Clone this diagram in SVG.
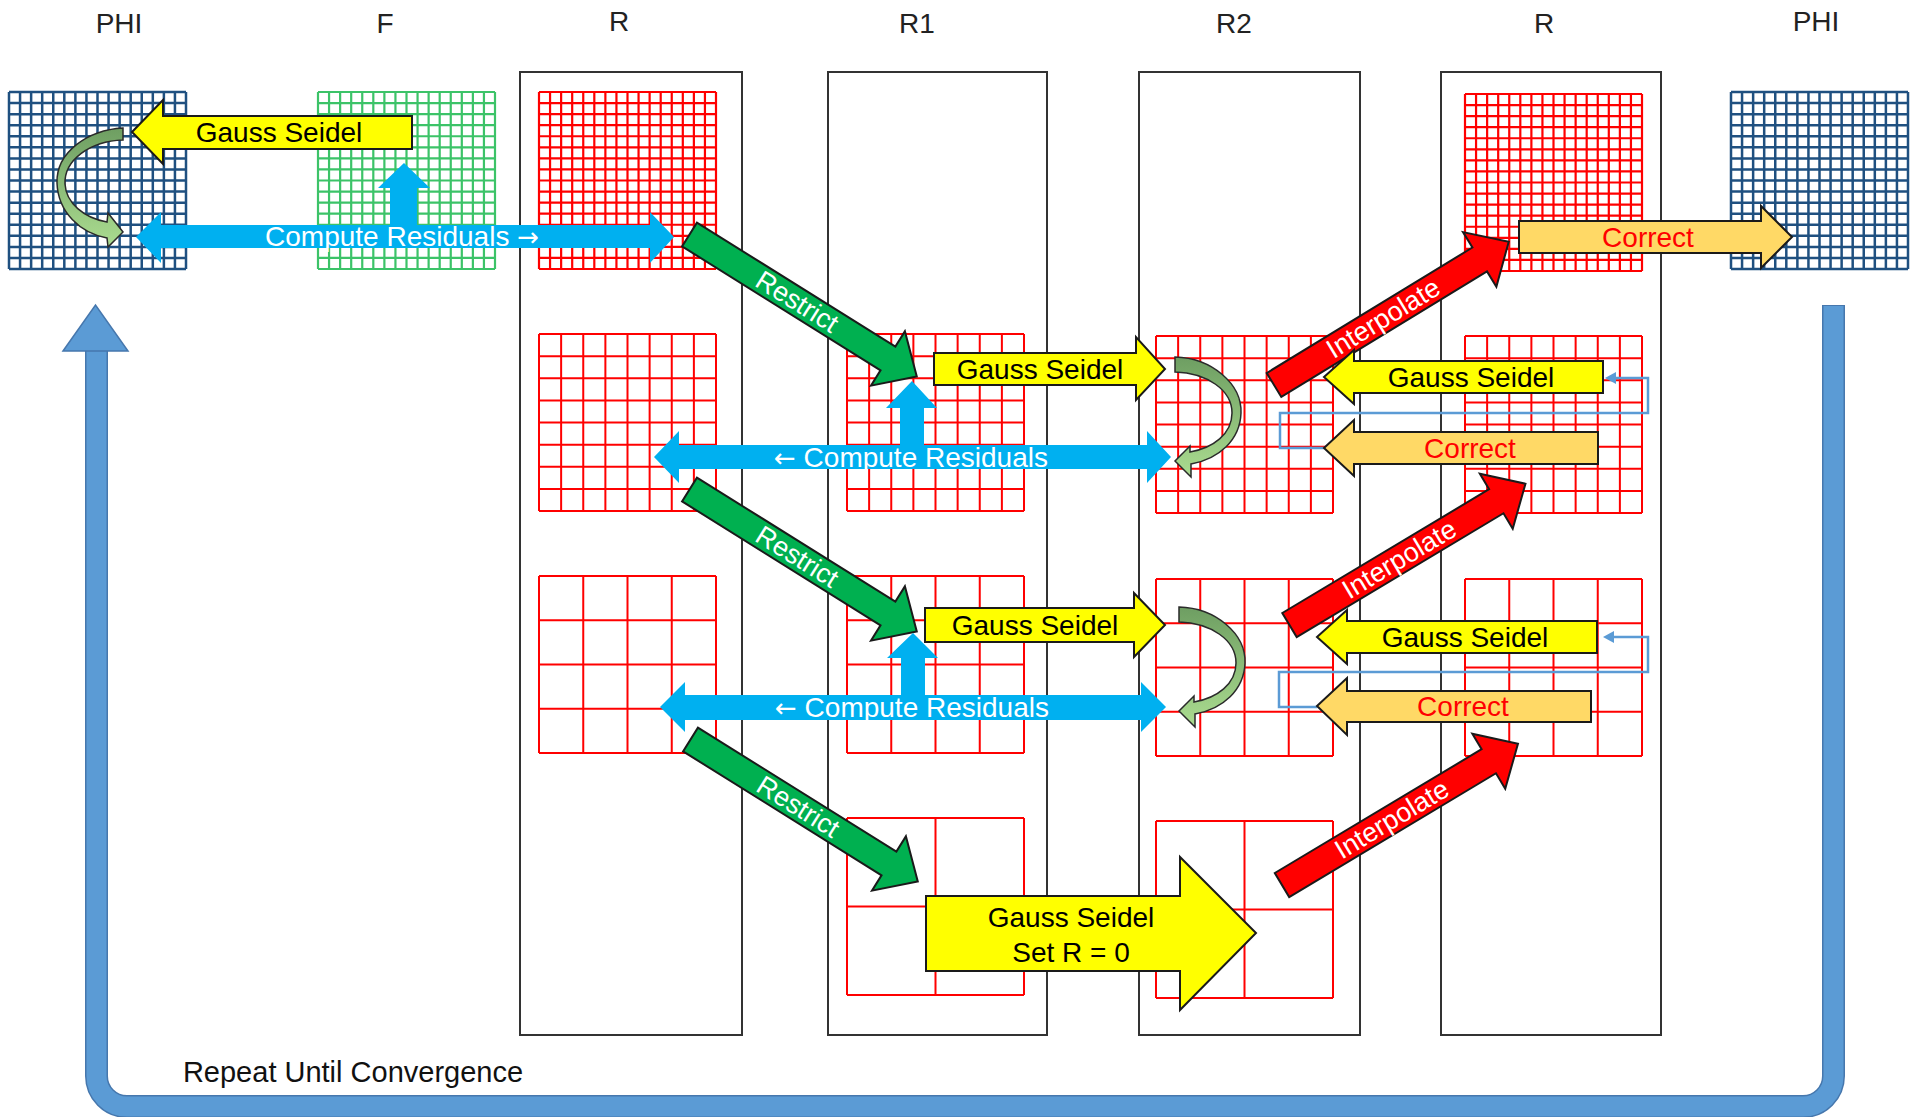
<svg xmlns="http://www.w3.org/2000/svg" xmlns:xlink="http://www.w3.org/1999/xlink" width="1918" height="1117" viewBox="0 0 1918 1117">
<style>
.col{fill:none;stroke:#333;stroke-width:2}
.hdr{font-family:"Liberation Sans",Arial,sans-serif;font-size:28px;fill:#222;text-anchor:middle}
.lbl{font-family:"Liberation Sans",Arial,sans-serif;font-size:28px;text-anchor:middle}
.dlbl{font-family:"Liberation Sans",Arial,sans-serif;font-size:27px;text-anchor:middle;fill:#fff}
.arw{font-family:"DejaVu Sans",sans-serif;font-size:26px}
.yel{fill:#FFFF00;stroke:#1a1a1a;stroke-width:2;stroke-linejoin:miter}
.org{fill:#FFD966;stroke:#1a1a1a;stroke-width:2}
.grn{fill:#00B050;stroke:#1a1a1a;stroke-width:2}
.red{fill:#FF0000;stroke:#1a1a1a;stroke-width:2}
.cyan{fill:#00B0F0}
.crv{fill:url(#cg);stroke:#2a2a2a;stroke-width:1.5}
.fb{fill:none;stroke:#5B9BD5;stroke-width:2.5}
.blk{fill:#000}
.wht{fill:#fff}
.rtx{fill:#FF0000}
</style>
<defs>
<linearGradient id="cg" x1="0" y1="0" x2="0" y2="1">
<stop offset="0" stop-color="#6E9E62"/>
<stop offset="1" stop-color="#ABDC90"/>
</linearGradient>
<path id="g16" fill="none" d="M0,0V177M11.06,0V177M22.13,0V177M33.19,0V177M44.25,0V177M55.31,0V177M66.38,0V177M77.44,0V177M88.5,0V177M99.56,0V177M110.63,0V177M121.69,0V177M132.75,0V177M143.81,0V177M154.88,0V177M165.94,0V177M177,0V177M0,0H177M0,11.06H177M0,22.13H177M0,33.19H177M0,44.25H177M0,55.31H177M0,66.38H177M0,77.44H177M0,88.5H177M0,99.56H177M0,110.63H177M0,121.69H177M0,132.75H177M0,143.81H177M0,154.88H177M0,165.94H177M0,177H177"/>
<path id="g8" fill="none" d="M0,0V177M22.13,0V177M44.25,0V177M66.38,0V177M88.5,0V177M110.63,0V177M132.75,0V177M154.88,0V177M177,0V177M0,0H177M0,22.13H177M0,44.25H177M0,66.38H177M0,88.5H177M0,110.63H177M0,132.75H177M0,154.88H177M0,177H177"/>
<path id="g4" fill="none" d="M0,0V177M44.25,0V177M88.5,0V177M132.75,0V177M177,0V177M0,0H177M0,44.25H177M0,88.5H177M0,132.75H177M0,177H177"/>
<path id="g2" fill="none" d="M0,0V177M88.5,0V177M177,0V177M0,0H177M0,88.5H177M0,177H177"/>
<polygon id="diagR" points="0,-14 234,-14 234,-32 268,0 234,32 234,14 0,14"/>
<polygon id="diagI" points="0,-14 241,-14 241,-32 275,0 241,32 241,14 0,14"/>
</defs>

<g id="headers">
<text class="hdr" x="119" y="33">PHI</text>
<text class="hdr" x="385" y="33">F</text>
<text class="hdr" x="619" y="31">R</text>
<text class="hdr" x="917" y="33">R1</text>
<text class="hdr" x="1234" y="33">R2</text>
<text class="hdr" x="1544" y="33">R</text>
<text class="hdr" x="1816" y="31">PHI</text>
</g>

<g id="columns">
<rect id="col-R" class="col" x="520" y="72" width="222" height="963"/>
<rect id="col-R1" class="col" x="828" y="72" width="219" height="963"/>
<rect id="col-R2" class="col" x="1139" y="72" width="221" height="963"/>
<rect id="col-Rout" class="col" x="1441" y="72" width="220" height="963"/>
</g>

<g id="grids">
<use id="grid-phi-in" xlink:href="#g16" href="#g16" x="9" y="92" stroke="#1F5080" stroke-width="2.5"/>
<use id="grid-f" xlink:href="#g16" href="#g16" x="318" y="92" stroke="#3CC368" stroke-width="2.2"/>
<use id="grid-r-0" xlink:href="#g16" href="#g16" x="539" y="92" stroke="#FF0000" stroke-width="2.2"/>
<use id="grid-r-1" xlink:href="#g8" href="#g8" x="539" y="334" stroke="#FF0000" stroke-width="2"/>
<use id="grid-r-2" xlink:href="#g4" href="#g4" x="539" y="576" stroke="#FF0000" stroke-width="2"/>
<use id="grid-r1-1" xlink:href="#g8" href="#g8" x="847" y="334" stroke="#FF0000" stroke-width="2"/>
<use id="grid-r1-2" xlink:href="#g4" href="#g4" x="847" y="576" stroke="#FF0000" stroke-width="2"/>
<use id="grid-r1-3" xlink:href="#g2" href="#g2" x="847" y="818" stroke="#FF0000" stroke-width="2"/>
<use id="grid-r2-1" xlink:href="#g8" href="#g8" x="1156" y="336" stroke="#FF0000" stroke-width="2"/>
<use id="grid-r2-2" xlink:href="#g4" href="#g4" x="1156" y="579" stroke="#FF0000" stroke-width="2"/>
<use id="grid-r2-3" xlink:href="#g2" href="#g2" x="1156" y="821" stroke="#FF0000" stroke-width="2"/>
<use id="grid-rout-0" xlink:href="#g16" href="#g16" x="1465" y="94" stroke="#FF0000" stroke-width="2.2"/>
<use id="grid-rout-1" xlink:href="#g8" href="#g8" x="1465" y="336" stroke="#FF0000" stroke-width="2"/>
<use id="grid-rout-2" xlink:href="#g4" href="#g4" x="1465" y="579" stroke="#FF0000" stroke-width="2"/>
<use id="grid-phi-out" xlink:href="#g16" href="#g16" x="1731" y="92" stroke="#1F5080" stroke-width="2.5"/>
</g>

<g id="connectors">
<g id="loop-repeat">
<path d="M1833.5,305 V1076 A30.5,30.5 0 0 1 1803,1106.5 H127 A30.5,30.5 0 0 1 96.5,1076 V349" fill="none" stroke="#4677AD" stroke-width="23"/>
<path d="M1833.5,306 V1076 A30.5,30.5 0 0 1 1803,1106.5 H127 A30.5,30.5 0 0 1 96.5,1076 V348" fill="none" stroke="#5B9BD5" stroke-width="20"/>
<polygon points="63,351 95.5,305 128,351" fill="#5B9BD5" stroke="#4677AD" stroke-width="1.5"/>
</g>
<polyline id="fb-1" class="fb" points="1324,448 1280,448 1280,413 1648,413 1648,378 1614,378"/>
<polygon points="1605,378 1616,372 1616,384" fill="#5B9BD5"/>
<polyline id="fb-2" class="fb" points="1317,707 1279,707 1279,672 1648,672 1648,637 1612,637"/>
<polygon points="1603,637 1614,631 1614,643" fill="#5B9BD5"/>
</g>

<g id="op-gs-top">
<polygon class="yel" points="132,132 163,100 163,116 412,116 412,149 163,149 163,164"/>
<text class="lbl blk" x="279" y="142">Gauss Seidel</text>
</g>
<g id="op-curve-phi">
<path class="crv" d="M123,128 C88,130 56,152 57,183 C58,212 80,233 107,238 L108,247 L123,232 L108,213 L107,222 C84,218 66,203 65,184 C64,160 90,141 123,140 Z"/>
</g>
<g id="op-res-top">
<polygon class="cyan" points="404,163 430,188 417,188 417,226 390,226 390,188 378,188"/>
<polygon class="cyan" points="136,237 161,212 161,225 650,225 650,212 674,237 650,263 650,248 161,248 161,263"/>
<text class="lbl wht" x="402" y="246">Compute Residuals <tspan class="arw">→</tspan></text>
</g>

<g id="op-restrict-1" transform="translate(689.5,234.5) rotate(32)">
<use xlink:href="#diagR" href="#diagR" class="grn"/>
<text class="dlbl" x="127" y="9">Restrict</text>
</g>
<g id="op-restrict-2" transform="translate(689.5,489.5) rotate(32)">
<use xlink:href="#diagR" href="#diagR" class="grn"/>
<text class="dlbl" x="127" y="9">Restrict</text>
</g>
<g id="op-restrict-3" transform="translate(690.5,739.5) rotate(32)">
<use xlink:href="#diagR" href="#diagR" class="grn"/>
<text class="dlbl" x="127" y="9">Restrict</text>
</g>

<g id="op-gs-1">
<polygon class="yel" points="934,353 1136,353 1136,337 1165,369 1136,400 1136,385 934,385"/>
<text class="lbl blk" x="1040" y="379">Gauss Seidel</text>
</g>
<g id="op-res-1">
<polygon class="cyan" points="912,381 937,408 924,408 924,447 900,447 900,408 886,408"/>
<polygon class="cyan" points="654,457 679,431 679,445 1147,445 1147,431 1171,457 1147,483 1147,469 679,469 679,483"/>
<text class="lbl wht" x="911" y="467"><tspan class="arw">←</tspan> Compute Residuals</text>
</g>
<g id="op-curve-1" transform="translate(-4,-250)">
<path class="crv" d="M1179,607 C1216,608 1246,634 1245,663 C1244,690 1223,709 1195,714 L1195,727 L1179,711 L1194,696 L1194,702 C1217,698 1236,684 1236,663 C1236,640 1211,623 1179,622 Z"/>
</g>

<g id="op-gs-2">
<polygon class="yel" points="925,608 1134,608 1134,593 1165,625 1134,657 1134,642 925,642"/>
<text class="lbl blk" x="1035" y="635">Gauss Seidel</text>
</g>
<g id="op-res-2">
<polygon class="cyan" points="913,633 938,658 925,658 925,696 901,696 901,658 887,658"/>
<polygon class="cyan" points="660,707 685,682 685,695 1141,695 1141,682 1166,707 1141,732 1141,720 685,720 685,732"/>
<text class="lbl wht" x="912" y="717"><tspan class="arw">←</tspan> Compute Residuals</text>
</g>
<g id="op-curve-2">
<path class="crv" d="M1179,607 C1216,608 1246,634 1245,663 C1244,690 1223,709 1195,714 L1195,727 L1179,711 L1194,696 L1194,702 C1217,698 1236,684 1236,663 C1236,640 1211,623 1179,622 Z"/>
</g>

<g id="op-gs-coarse">
<polygon class="yel" points="926,896 1180,896 1180,857 1256,933 1180,1010 1180,971 926,971"/>
<text class="lbl blk" x="1071" y="927">Gauss Seidel</text>
<text class="lbl blk" x="1071" y="962">Set R = 0</text>
</g>

<g id="op-interp-1" transform="translate(1274,385) rotate(-31.4)">
<use xlink:href="#diagI" href="#diagI" class="red"/>
<text class="dlbl" x="128" y="9">Interpolate</text>
</g>
<g id="op-interp-2" transform="translate(1289.5,625) rotate(-30.9)">
<use xlink:href="#diagI" href="#diagI" class="red"/>
<text class="dlbl" x="128" y="9">Interpolate</text>
</g>
<g id="op-interp-3" transform="translate(1282,885) rotate(-30.9)">
<use xlink:href="#diagI" href="#diagI" class="red"/>
<text class="dlbl" x="128" y="9">Interpolate</text>
</g>

<g id="op-gs-back-1">
<polygon class="yel" points="1324,377 1354,350 1354,361 1603,361 1603,393 1354,393 1354,404"/>
<text class="lbl blk" x="1471" y="387">Gauss Seidel</text>
</g>
<g id="op-correct-1">
<polygon class="org" points="1324,448 1354,420 1354,432 1598,432 1598,464 1354,464 1354,476"/>
<text class="lbl rtx" x="1470" y="458">Correct</text>
</g>
<g id="op-gs-back-2">
<polygon class="yel" points="1317,637 1347,610 1347,621 1597,621 1597,653 1347,653 1347,664"/>
<text class="lbl blk" x="1465" y="647">Gauss Seidel</text>
</g>
<g id="op-correct-2">
<polygon class="org" points="1317,706 1347,678 1347,691 1591,691 1591,722 1347,722 1347,735"/>
<text class="lbl rtx" x="1463" y="716">Correct</text>
</g>
<g id="op-correct-top">
<polygon class="org" points="1519,221 1761,221 1761,206 1792,237 1761,268 1761,253 1519,253"/>
<text class="lbl rtx" x="1648" y="247">Correct</text>
</g>

<g id="label-repeat">
<text class="lbl" x="353" y="1082" style="font-size:29px;fill:#111">Repeat Until Convergence</text>
</g>
</svg>
